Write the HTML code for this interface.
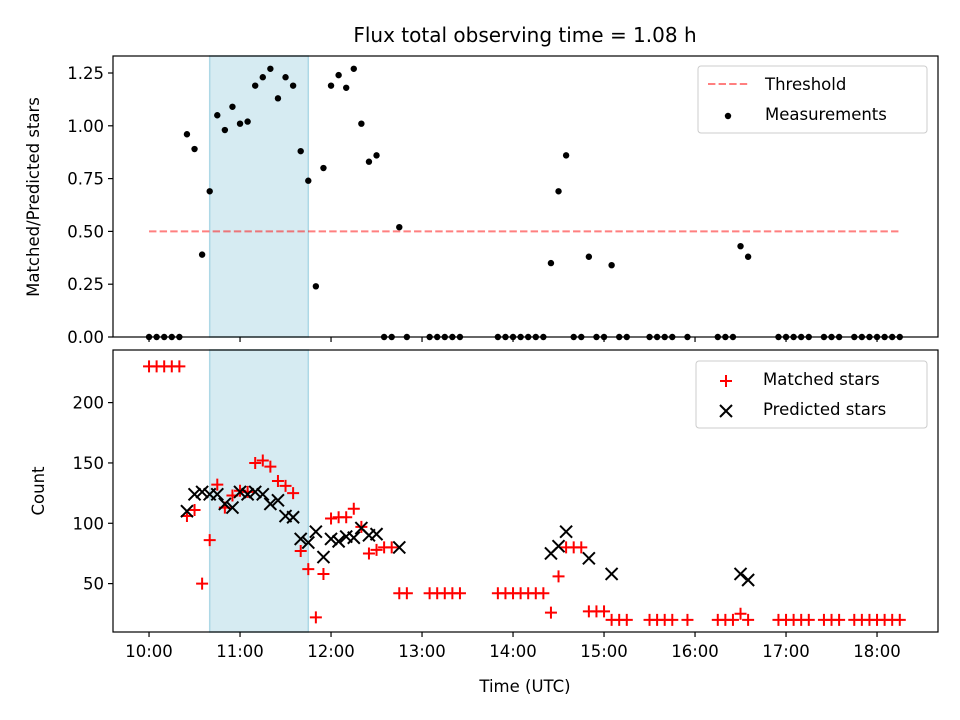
<!DOCTYPE html>
<html><head><meta charset="utf-8"><style>
html,body{margin:0;padding:0;background:#fff;}
svg{display:block;font-family:"DejaVu Sans","Liberation Sans",sans-serif;}
</style></head><body>
<svg id="chart" width="960" height="720" viewBox="0 0 960 720"></svg>
<script>
const times = ["10:00","10:05","10:10","10:15","10:20","10:25","10:30","10:35","10:40","10:45","10:50","10:55","11:00","11:05","11:10","11:15","11:20","11:25","11:30","11:35","11:40","11:45","11:50","11:55","12:00","12:05","12:10","12:15","12:20","12:25","12:30","12:35","12:40","12:45","12:50","13:05","13:10","13:15","13:20","13:25","13:50","13:55","14:00","14:05","14:10","14:15","14:20","14:25","14:30","14:35","14:40","14:45","14:50","14:55","15:00","15:05","15:10","15:15","15:30","15:35","15:40","15:45","15:55","16:15","16:20","16:25","16:30","16:35","16:55","17:00","17:05","17:10","17:15","17:25","17:30","17:35","17:45","17:50","17:55","18:00","18:05","18:10","18:15"];
const ratio = [0,0,0,0,0,0.96,0.89,0.39,0.69,1.05,0.98,1.09,1.01,1.02,1.19,1.23,1.27,1.13,1.23,1.19,0.88,0.74,0.24,0.80,1.19,1.24,1.18,1.27,1.01,0.83,0.86,0,0,0.52,0,0,0,0,0,0,0,0,0,0,0,0,0,0.35,0.69,0.86,0,0,0.38,0,0,0.34,0,0,0,0,0,0,0,0,0,0,0.43,0.38,0,0,0,0,0,0,0,0,0,0,0,0,0,0,0];
const matched = [230,230,230,230,230,106,111,50,86,132,113,123,127,126,150,152,147,135,131,125,77,62,22,58,104,105,105,112,97,75,78,80,80,42,42,42,42,42,42,42,42,42,42,42,42,42,42,26,56,80,80,80,27,27,27,20,20,20,20,20,20,20,20,20,20,20,25,20,20,20,20,20,20,20,20,20,20,20,20,20,20,20,20];
const predicted = [null,null,null,null,null,110,124,126,124,124,116,113,126,124,126,124,116,119,106,105,87,84,93,72,87,85,89,88,96,90,91,null,null,80,null,null,null,null,null,null,null,null,null,null,null,null,null,75,81,93,null,null,71,null,null,58,null,null,null,null,null,null,null,null,null,null,58,53,null,null,null,null,null,null,null,null,null,null,null,null,null,null,null];
const threshold = 0.5;
const shadeStart = "10:40", shadeEnd = "11:45";
const xTickLabels = ["10:00","11:00","12:00","13:00","14:00","15:00","16:00","17:00","18:00"];
const topTicks = [0,0.25,0.5,0.75,1.0,1.25];
const botTicks = [50,100,150,200];

const NS="http://www.w3.org/2000/svg";
const svg=document.getElementById('chart');
function el(tag,attrs,parent){const e=document.createElementNS(NS,tag);for(const k in attrs)e.setAttribute(k,attrs[k]);(parent||svg).appendChild(e);return e;}
function hrs(t){const p=t.split(':');return +p[0]+(+p[1])/60;}
const L=113,R=938;
const xMin=9.604,xMax=18.67;
function X(t){return L+(hrs(t)-xMin)/(xMax-xMin)*(R-L);}
const T={top:56,bot:337,min:0,max:1.3305};
const B={top:350,bot:632,min:9.9,max:243.6};
function Yt(v){return T.bot-(v-T.min)/(T.max-T.min)*(T.bot-T.top);}
function Yb(v){return B.bot-(v-B.min)/(B.max-B.min)*(B.bot-B.top);}
const FS='16.5';

let t=el('text',{x:525,y:42,'text-anchor':'middle','font-size':'20'});t.textContent='Flux total observing time = 1.08 h';



function panel(P,Y,ticks,fmt,name){
  const g=el('g',{});
  
  
  const sh=el('rect',{x:X(shadeStart),y:P.top,width:X(shadeEnd)-X(shadeStart),height:P.bot-P.top,fill:'#add8e6','fill-opacity':'0.5',stroke:'#add8e6','stroke-width':1.5},g);
  
  
  ticks.forEach(v=>{const y=Y(v);el('line',{x1:L-5,x2:L,y1:y,y2:y,stroke:'#000','stroke-width':1.2},g);
    const tx=el('text',{x:L-9,y:y+6,'text-anchor':'end','font-size':FS},g);tx.textContent=fmt(v);
    
    });
  xTickLabels.forEach(s=>{const x=X(s);el('line',{x1:x,x2:x,y1:P.bot,y2:P.bot+5,stroke:'#000','stroke-width':1.2},g);});
  return g;
}
const gt=panel(T,Yt,topTicks,v=>v.toFixed(2),'top-panel');
const gb=panel(B,Yb,botTicks,v=>String(v),'bottom-panel');

const th=el('line',{x1:X(times[0]),x2:X(times[times.length-1]),y1:Yt(threshold),y2:Yt(threshold),stroke:'#ff0000','stroke-opacity':0.5,'stroke-width':2,'stroke-dasharray':'7.4,3.2'},gt);


times.forEach((s,i)=>{const c=el('circle',{cx:X(s),cy:Yt(ratio[i]),r:3.2,fill:'#000'},gt);
  
  });
times.forEach((s,i)=>{const x=X(s),y=Yb(matched[i]);const p=el('path',{d:`M${x-6},${y}H${x+6}M${x},${y-6}V${y+6}`,stroke:'#ff0000','stroke-width':2},gb);
  
  });
times.forEach((s,i)=>{if(predicted[i]==null)return;const x=X(s),y=Yb(predicted[i]);const p=el('path',{d:`M${x-6},${y-6}L${x+6},${y+6}M${x-6},${y+6}L${x+6},${y-6}`,stroke:'#000','stroke-width':2},gb);
  
  });

[T,B].forEach(P=>{el('rect',{x:L,y:P.top,width:R-L,height:P.bot-P.top,fill:'none',stroke:'#000','stroke-width':1.2});});

xTickLabels.forEach(s=>{const tx=el('text',{x:X(s),y:B.bot+25,'text-anchor':'middle','font-size':FS});tx.textContent=s;
  
  });
let a=el('text',{x:525,y:692,'text-anchor':'middle','font-size':FS});a.textContent='Time (UTC)';


a=el('text',{x:0,y:0,'text-anchor':'middle','font-size':FS,transform:'translate(39,197) rotate(-90)'});a.textContent='Matched/Predicted stars';


a=el('text',{x:0,y:0,'text-anchor':'middle','font-size':FS,transform:'translate(44,491) rotate(-90)'});a.textContent='Count';



let lg=el('g',{});


el('rect',{x:698,y:66,width:229,height:67,rx:3,fill:'#fff','fill-opacity':0.8,stroke:'#ccc'},lg);
el('line',{x1:708,x2:748,y1:84,y2:84,stroke:'#ff0000','stroke-opacity':0.5,'stroke-width':2,'stroke-dasharray':'7.4,3.2'},lg);
el('circle',{cx:728,cy:116,r:3.2,fill:'#000'},lg);
let lt=el('text',{x:765,y:90,'font-size':FS},lg);lt.textContent='Threshold';


lt=el('text',{x:765,y:120,'font-size':FS},lg);lt.textContent='Measurements';



lg=el('g',{});


el('rect',{x:696,y:361,width:231,height:67,rx:3,fill:'#fff','fill-opacity':0.8,stroke:'#ccc'},lg);
el('path',{d:'M720,381H732M726,375V387',stroke:'#ff0000','stroke-width':2},lg);
el('path',{d:'M720,405L732,417M720,417L732,405',stroke:'#000','stroke-width':2},lg);
lt=el('text',{x:763,y:385,'font-size':FS},lg);lt.textContent='Matched stars';


lt=el('text',{x:763,y:415,'font-size':FS},lg);lt.textContent='Predicted stars';


</script>
</body></html>
